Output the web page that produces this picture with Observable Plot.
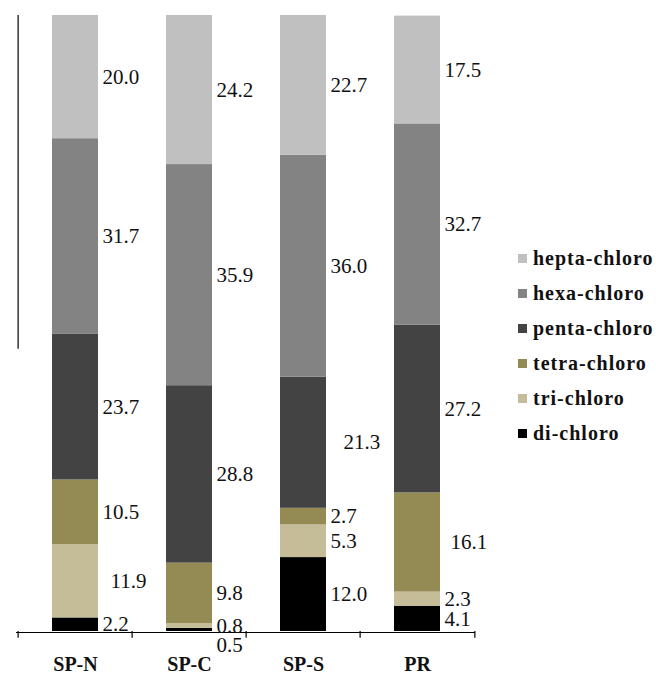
<!DOCTYPE html>
<html>
<head>
<meta charset="utf-8">
<script src="https://cdn.jsdelivr.net/npm/d3@7"></script>
<script src="https://cdn.jsdelivr.net/npm/@observablehq/plot@0.6"></script>
<style>
  html, body { margin: 0; padding: 0; background: #fff; }
  #wrap { position: relative; width: 656px; height: 673px; overflow: hidden; }
  #legend { position: absolute; left: 518px; top: 241px; font-family: "Liberation Serif", "Times New Roman", serif; font-weight: bold; font-size: 20px; letter-spacing: 1px; color: #111; }
  #legend .row { height: 35px; display: flex; align-items: center; white-space: nowrap; }
  #legend .sw { width: 9px; height: 9px; margin-right: 6px; flex: none; }
</style>
</head>
<body>
<div id="wrap"><div id="chart"></div><div id="legend"></div></div>
<script>
// Data
const sites = ["SP-N", "SP-C", "SP-S", "PR"];
// stacking order: bottom to top
const homologs = ["di-chloro", "tri-chloro", "tetra-chloro", "penta-chloro", "hexa-chloro", "hepta-chloro"];
const diChloro    = [2.2, 0.5, 12.0, 4.1];
const triChloro   = [11.9, 0.8, 5.3, 2.3];
const tetraChloro = [10.5, 9.8, 2.7, 16.1];
const pentaChloro = [23.7, 28.8, 21.3, 27.2];
const hexaChloro  = [31.7, 35.9, 36.0, 32.7];
const heptaChloro = [20.0, 24.2, 22.7, 17.5];
const colors = ["#000000", "#c4bd97", "#948a54", "#434343", "#838383", "#c0c0c0"];
const legendOrder = ["hepta-chloro", "hexa-chloro", "penta-chloro", "tetra-chloro", "tri-chloro", "di-chloro"];

// label nudges (layout only)
const nudgeDx = {"SP-N|tri-chloro": 8, "SP-S|penta-chloro": 13, "PR|tetra-chloro": 6};
const nudgeDy = {"SP-C|di-chloro": 15};

const seriesValues = [diChloro, triChloro, tetraChloro, pentaChloro, hexaChloro, heptaChloro];
const rows = [];
homologs.forEach((h, j) => sites.forEach((s, i) => rows.push({site: s, homolog: h, value: seriesValues[j][i]})));

const W = 656, H = 673, mL = 16, mR = 181, mT = 15, mB = 42;
const step = (W - mL - mR) / sites.length;
const bw = step * 0.4;

const serif = "'Liberation Serif', 'Times New Roman', serif";

const plot = Plot.plot({
  width: W, height: H,
  marginLeft: mL, marginRight: mR, marginTop: mT, marginBottom: mB,
  style: {fontFamily: serif, background: "#fff", color: "#111"},
  x: {domain: sites, paddingInner: 0.6, paddingOuter: 0.3, align: 0.5},
  y: {domain: [0, 100], axis: null},
  color: {domain: homologs, range: colors},
  marks: [
    Plot.barY(rows, {x: "site", y: "value", fill: "homolog", order: homologs}),
    // partial left axis line
    Plot.ruleX([sites[0]], {x: d => d, dx: -step / 2, y1: 45.8, y2: 100, stroke: "#000", strokeWidth: 1.2}),
    // baseline
    Plot.ruleY([0], {stroke: "#000", strokeWidth: 1.2, dy: 1}),
    // boundary ticks
    Plot.ruleX(sites, {x: d => d, dx: -step / 2, y1: 0, y2: -1.1, stroke: "#000", strokeWidth: 1.2}),
    Plot.ruleX([sites[sites.length - 1]], {x: d => d, dx: step / 2, y1: 0, y2: -1.1, stroke: "#000", strokeWidth: 1.2}),
    // value labels
    Plot.text(rows, Plot.stackY({
      x: "site", y: "value", z: "homolog", order: homologs,
      text: d => d.value.toFixed(1),
      textAnchor: "start",
      dx: bw / 2 + 4,
      fontSize: 21,
      fill: "#111"
    })),
    Plot.axisX({tickSize: 0, tickPadding: 25, fontSize: 20, fontWeight: "bold", label: null})
  ]
});

// apply per-label nudges
(function applyNudges() {
  const texts = plot.querySelectorAll("g[aria-label='text'] text");
  texts.forEach(t => {
    const idx = t.__data__;
    const r = rows[idx];
    if (!r) return;
    const key = r.site + "|" + r.homolog;
    if (nudgeDx[key] || nudgeDy[key]) {
      const tr = t.getAttribute("transform");
      const m = /translate\(([-\d.e]+),([-\d.e]+)\)/.exec(tr);
      if (m) {
        const nx = +m[1] + (nudgeDx[key] || 0), ny = +m[2] + (nudgeDy[key] || 0);
        t.setAttribute("transform", `translate(${nx},${ny})`);
      }
    }
  });
})();

document.getElementById("chart").appendChild(plot);

const legend = document.getElementById("legend");
legendOrder.forEach(h => {
  const row = document.createElement("div");
  row.className = "row";
  const sw = document.createElement("span");
  sw.className = "sw";
  sw.style.background = colors[homologs.indexOf(h)];
  const lab = document.createElement("span");
  lab.textContent = h;
  row.appendChild(sw); row.appendChild(lab);
  legend.appendChild(row);
});
</script>
</body>
</html>
